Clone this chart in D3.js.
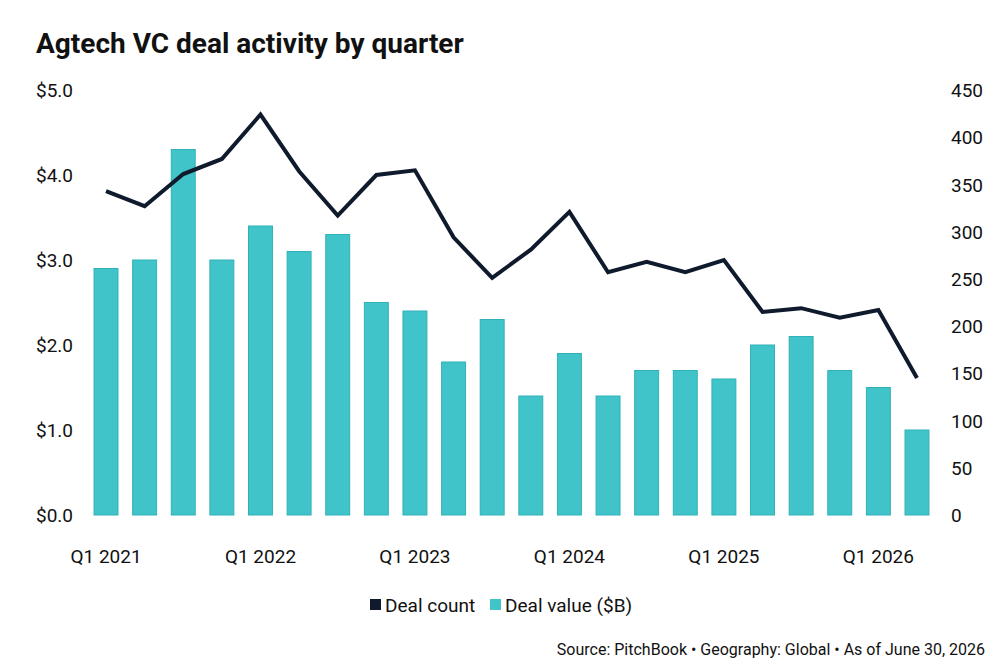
<!DOCTYPE html>
<html>
<head>
<meta charset="utf-8">
<script src="https://cdn.jsdelivr.net/npm/d3@7"></script>
<style>
  body { margin: 0; background: #fff; }
  text { font-family: Roboto, "Liberation Sans", sans-serif; fill: #111; }
</style>
</head>
<body>
<script>
const quarters = ["Q1 2021","Q2 2021","Q3 2021","Q4 2021",
  "Q1 2022","Q2 2022","Q3 2022","Q4 2022",
  "Q1 2023","Q2 2023","Q3 2023","Q4 2023",
  "Q1 2024","Q2 2024","Q3 2024","Q4 2024",
  "Q1 2025","Q2 2025","Q3 2025","Q4 2025",
  "Q1 2026","Q2 2026"];
const dealValue = [2.9, 3.0, 4.3, 3.0, 3.4, 3.1, 3.3, 2.5, 2.4, 1.8, 2.3, 1.4,
  1.9, 1.4, 1.7, 1.7, 1.6, 2.0, 2.1, 1.7, 1.5, 1.0];
const dealCount = [343, 327, 361, 377, 424, 364, 317, 360, 365, 294, 251, 281,
  321, 257, 268, 257, 270, 215, 219, 209, 217, 145];
const leftTicks = [0, 1, 2, 3, 4, 5];
const rightTicks = [0, 50, 100, 150, 200, 250, 300, 350, 400, 450];
const xLabels = ["Q1 2021","Q1 2022","Q1 2023","Q1 2024","Q1 2025","Q1 2026"];

const w = 1000, h = 670;
const plotTop = 90, plotBottom = 515;
const teal = "#41c4c9";
const navy = "#0f1a2c";

const svg = d3.select("body").append("svg")
  .attr("width", w)
  .attr("height", h);

const x = d3.scaleBand()
  .domain(quarters)
  .range([86.7, 936.3])
  .paddingInner(0.38)
  .paddingOuter(0.19);

const yLeft = d3.scaleLinear().domain([0, 5]).range([plotBottom, plotTop]);
const yRight = d3.scaleLinear().domain([0, 450]).range([plotBottom, plotTop]);

// title
svg.append("text")
  .attr("x", 36).attr("y", 53)
  .attr("font-size", 28)
  .attr("font-weight", 700)
  .text("Agtech VC deal activity by quarter");

// left axis
const leftAxis = d3.axisLeft(yLeft).tickValues(leftTicks)
  .tickFormat(d => "$" + d3.format(".1f")(d)).tickSize(0);
const gl = svg.append("g").attr("transform", "translate(36,0)").call(leftAxis);
gl.select(".domain").remove();
gl.selectAll("text").attr("text-anchor", "start").attr("x", 0).attr("dy", "0.35em")
  .attr("font-size", 19).attr("fill", "#111");

// right axis
const rightAxis = d3.axisRight(yRight).tickValues(rightTicks).tickSize(0);
const gr = svg.append("g").attr("transform", "translate(951,0)").call(rightAxis);
gr.select(".domain").remove();
gr.selectAll("text").attr("x", 0).attr("dy", "0.35em")
  .attr("font-size", 19).attr("fill", "#111");

// bottom axis
const bottomAxis = d3.axisBottom(x).tickValues(xLabels).tickSize(0);
const gb = svg.append("g").attr("transform", `translate(0,${plotBottom})`).call(bottomAxis);
gb.select(".domain").remove();
gb.selectAll("text").attr("y", 41).attr("dy", "0.35em")
  .attr("font-size", 19).attr("fill", "#111");

// bars
svg.append("g").selectAll("rect")
  .data(quarters)
  .join("rect")
  .attr("x", d => x(d))
  .attr("y", (d, i) => yLeft(dealValue[i]))
  .attr("width", x.bandwidth())
  .attr("height", (d, i) => plotBottom - yLeft(dealValue[i]))
  .attr("fill", teal)
  .attr("stroke", "#2fb2b7")
  .attr("stroke-width", 1);

// line
const line = d3.line()
  .x((d, i) => x(quarters[i]) + x.bandwidth() / 2)
  .y(d => yRight(d));
svg.append("path")
  .datum(dealCount)
  .attr("d", line)
  .attr("fill", "none")
  .attr("stroke", navy)
  .attr("stroke-width", 4)
  .attr("stroke-linejoin", "miter");

// legend
const legend = svg.append("g").attr("transform", "translate(370,605)");
legend.append("rect").attr("x", 0).attr("y", -6).attr("width", 11).attr("height", 11).attr("fill", navy);
legend.append("text").attr("x", 15).attr("y", 0).attr("dy", "0.35em").attr("font-size", 19).text("Deal count");
legend.append("rect").attr("x", 120).attr("y", -6).attr("width", 11).attr("height", 11).attr("fill", teal);
legend.append("text").attr("x", 135).attr("y", 0).attr("dy", "0.35em").attr("font-size", 19).text("Deal value ($B)");

// source
svg.append("text")
  .attr("x", 985).attr("y", 649).attr("dy", "0.35em")
  .attr("text-anchor", "end")
  .attr("font-size", 16)
  .text("Source: PitchBook • Geography: Global • As of June 30, 2026");
</script>
</body>
</html>
